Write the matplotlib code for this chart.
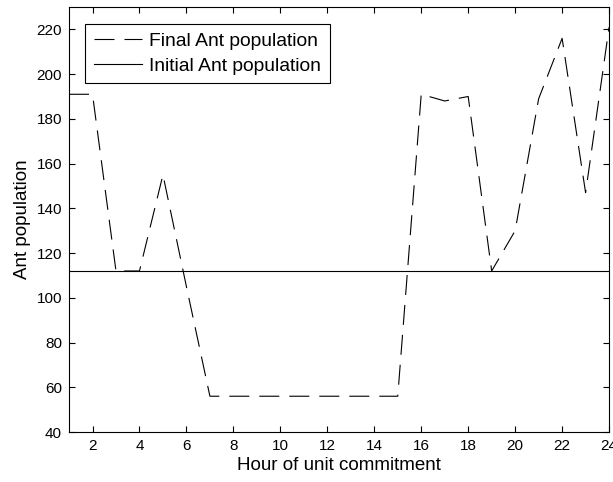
import matplotlib
matplotlib.use("Agg")
import matplotlib.pyplot as plt
import numpy as np

#-------------------- DATA -------------------#
hours = np.arange(1, 25)
final_pop = [191, 191, 112, 112, 155, 105, 56, 56, 56, 56, 56, 56,
             56, 56, 56, 191, 188, 190, 112, 130, 189, 216, 147, 221]
initial_pop = [112] * 24

#-------------------- PLOT -------------------#
plt.rcParams['font.family'] = ['Liberation Sans', 'DejaVu Sans']

fig = plt.figure(figsize=(6.13, 4.82), dpi=100)
ax = fig.add_axes([0.1126, 0.1037, 0.881, 0.8817])

ax.plot(hours, final_pop, color='black', linewidth=0.8, dashes=(18, 9),
        label='Final Ant population')
ax.plot(hours, initial_pop, color='black', linewidth=0.8,
        label='Initial Ant population')

ax.set_xlim(1, 24)
ax.set_ylim(40, 230)
ax.set_xticks(np.arange(2, 25, 2))
ax.set_yticks(np.arange(40, 221, 20))
ax.tick_params(direction='in', top=True, right=True, labelsize=11,
               length=4.5, width=0.8, pad=5)
for sp in ax.spines.values():
    sp.set_linewidth(0.8)
ax.set_xlabel('Hour of unit commitment', fontsize=13.5, labelpad=3)
ax.set_ylabel('Ant population', fontsize=13.5, labelpad=4)

leg = ax.legend(loc='upper left', bbox_to_anchor=(0.0296, 0.96),
                borderaxespad=0, fontsize=13.9, fancybox=False,
                edgecolor='black', framealpha=1, handlelength=2.5,
                labelspacing=0.35, handletextpad=0.37, borderpad=0.45)
leg.get_frame().set_linewidth(0.8)

plt.savefig('out.png', dpi=100)
